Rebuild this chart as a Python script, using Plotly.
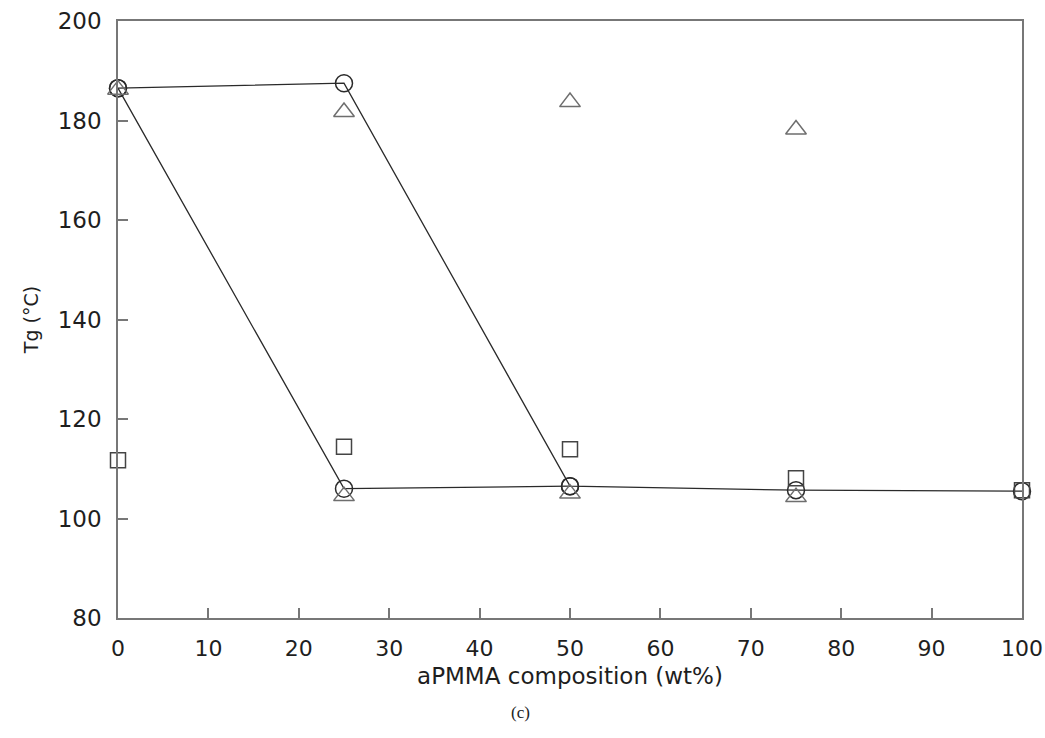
import plotly.graph_objects as go

# Data
line1_x = [0, 25, 50, 75, 100]
line1_y = [186.5, 187.5, 106.5, 105.7, 105.5]
line2_x = [0, 25, 50]
line2_y = [186.5, 106.0, 106.5]
tri_x = [0, 25, 25, 50, 50, 75, 75]
tri_y = [186.2, 181.7, 104.5, 183.7, 105.0, 178.2, 104.3]
sq_x = [0, 25, 50, 75, 100]
sq_y = [111.7, 114.4, 113.9, 108.1, 105.7]

x_ticks = [0, 10, 20, 30, 40, 50, 60, 70, 80, 90, 100]
y_ticks = [80, 100, 120, 140, 160, 180, 200]

mk_col = "#6e6e6e"
ln_col = "#2a2a2a"

fig = go.Figure()
fig.add_trace(go.Scatter(x=line1_x, y=line1_y, mode="lines+markers", cliponaxis=False,
                         line=dict(color=ln_col, width=1.3),
                         marker=dict(symbol="circle-open", size=17,
                                     line=dict(color=mk_col, width=1.5)),
                         showlegend=False))
fig.add_trace(go.Scatter(x=line2_x, y=line2_y, mode="lines+markers", cliponaxis=False,
                         line=dict(color=ln_col, width=1.3),
                         marker=dict(symbol="circle-open", size=17,
                                     line=dict(color=mk_col, width=1.5)),
                         showlegend=False))
fig.add_trace(go.Scatter(x=tri_x, y=tri_y, mode="markers", cliponaxis=False,
                         marker=dict(symbol="triangle-up-open", size=18, color=mk_col,
                                     line=dict(color=mk_col, width=1.5)),
                         showlegend=False))
fig.add_trace(go.Scatter(x=sq_x, y=sq_y, mode="markers", cliponaxis=False,
                         marker=dict(symbol="square-open", size=15, color="#444",
                                     line=dict(color="#444", width=1.5)),
                         showlegend=False))

font_fam = "DejaVu Sans, Verdana, sans-serif"
fig.update_layout(
    width=1045, height=738,
    margin=dict(l=118, r=23, t=21, b=120),
    paper_bgcolor="white", plot_bgcolor="white",
    font=dict(family=font_fam, color="#1e1e1e"),
    xaxis=dict(range=[0, 100], tickvals=x_ticks, ticks="inside", ticklen=10,
               tickcolor="#777", tickwidth=1.5, showline=True, linecolor="#777",
               linewidth=1.5, mirror=True, showgrid=False, zeroline=False,
               automargin=False, ticklabeloverflow="allow",
               tickfont=dict(size=22, family=font_fam), ticklabelstandoff=10,
               title=dict(text="aPMMA composition (wt%)", font=dict(size=23, family=font_fam),
                          standoff=8)),
    yaxis=dict(range=[80, 200], tickvals=y_ticks, ticks="inside", ticklen=10,
               tickcolor="#777", tickwidth=1.5, showline=True, linecolor="#777",
               linewidth=1.5, mirror=True, showgrid=False, zeroline=False,
               automargin=False,
               tickfont=dict(size=23, family=font_fam), ticklabelstandoff=10,
               title=dict(text="Tg (°C)", font=dict(size=19, family=font_fam),
                          standoff=14)),
)
fig.add_annotation(text="(c)", xref="paper", yref="paper", x=0.445, y=-0.158,
                   showarrow=False, yanchor="middle",
                   font=dict(size=17, family="Liberation Serif, Times New Roman, serif",
                             color="#222"))
fig.write_html("out.html")
